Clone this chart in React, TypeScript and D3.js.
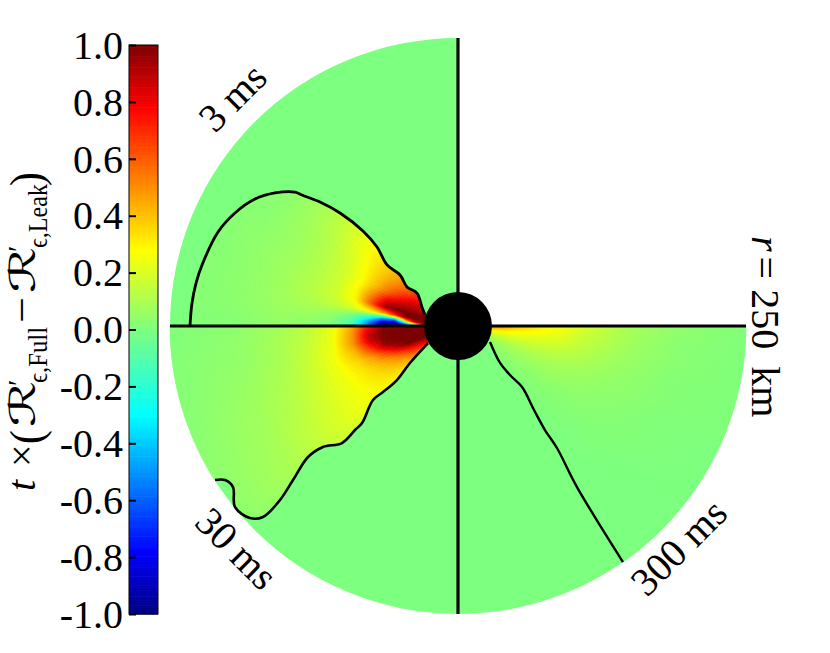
import * as d3 from "d3";
import { useEffect, useRef } from "react";

// polar grid the field is sampled on: radius in km, angle in degrees away from the horizontal line
const radiiKm = [30, 38, 46, 55, 65, 78, 92, 110, 130, 155, 190, 250];
const anglesDeg = [0, 3, 6, 10, 15, 20, 26, 33, 40, 48, 60];

const field3ms = [
    [0.6, -0.2, -0.8, -1.0, -0.95, -0.6, -0.15, 0.0, 0.04, 0.05, 0.02, 0.01],
    [0.9, 0.3, -0.5, -0.95, -0.9, -0.5, -0.1, 0.02, 0.05, 0.06, 0.03, 0.01],
    [1.0, 0.9, 0.4, -0.5, -0.5, -0.2, -0.02, 0.06, 0.08, 0.07, 0.04, 0.01],
    [1.0, 1.0, 1.0, 0.7, 0.45, 0.3, 0.2, 0.15, 0.11, 0.08, 0.04, 0.01],
    [1.0, 1.0, 1.0, 1.0, 0.95, 0.62, 0.3, 0.18, 0.13, 0.08, 0.04, 0.01],
    [0.92, 0.92, 0.92, 0.9, 0.82, 0.55, 0.3, 0.18, 0.12, 0.08, 0.04, 0.01],
    [0.85, 0.88, 0.85, 0.75, 0.62, 0.43, 0.28, 0.18, 0.12, 0.07, 0.04, 0.01],
    [0.78, 0.78, 0.72, 0.62, 0.52, 0.4, 0.3, 0.2, 0.13, 0.08, 0.03, 0.01],
    [0.72, 0.72, 0.65, 0.55, 0.47, 0.38, 0.32, 0.24, 0.16, 0.09, 0.03, 0.01],
    [0.6, 0.6, 0.55, 0.48, 0.42, 0.36, 0.3, 0.24, 0.17, 0.09, 0.03, 0.01],
    [0.4, 0.4, 0.35, 0.3, 0.25, 0.2, 0.15, 0.1, 0.06, 0.04, 0.02, 0.01],
];

const field30ms = [
    [1.0, 1.0, 0.9, 0.8, 0.95, 0.75, 0.45, 0.22, 0.14, 0.08, 0.04, 0.01],
    [1.0, 1.0, 1.0, 1.0, 1.0, 0.82, 0.48, 0.24, 0.15, 0.09, 0.045, 0.01],
    [1.0, 1.0, 1.0, 1.0, 1.0, 0.88, 0.5, 0.25, 0.16, 0.1, 0.05, 0.015],
    [1.0, 1.0, 1.0, 1.0, 1.0, 0.85, 0.5, 0.26, 0.17, 0.1, 0.05, 0.02],
    [1.0, 1.0, 1.0, 1.0, 0.95, 0.68, 0.42, 0.27, 0.18, 0.11, 0.06, 0.02],
    [1.0, 1.0, 1.0, 0.9, 0.72, 0.5, 0.36, 0.26, 0.18, 0.12, 0.07, 0.025],
    [0.85, 0.8, 0.75, 0.62, 0.5, 0.4, 0.32, 0.25, 0.19, 0.13, 0.08, 0.03],
    [0.65, 0.6, 0.55, 0.45, 0.4, 0.34, 0.3, 0.25, 0.2, 0.15, 0.09, 0.035],
    [0.5, 0.45, 0.4, 0.35, 0.32, 0.3, 0.28, 0.25, 0.21, 0.16, 0.1, 0.04],
    [0.35, 0.3, 0.28, 0.25, 0.25, 0.22, 0.2, 0.2, 0.17, 0.13, 0.08, 0.03],
    [0.2, 0.2, 0.18, 0.15, 0.15, 0.12, 0.1, 0.1, 0.1, 0.07, 0.04, 0.02],
];

const field300ms = [
    [0.55, 0.5, 0.42, 0.37, 0.33, 0.3, 0.27, 0.2, 0.14, 0.08, 0.04, 0.01],
    [0.45, 0.42, 0.38, 0.34, 0.31, 0.28, 0.25, 0.18, 0.13, 0.08, 0.04, 0.01],
    [0.35, 0.33, 0.3, 0.28, 0.27, 0.25, 0.22, 0.16, 0.12, 0.07, 0.03, 0.01],
    [0.25, 0.24, 0.23, 0.22, 0.21, 0.2, 0.18, 0.14, 0.1, 0.06, 0.03, 0.01],
    [0.15, 0.16, 0.16, 0.16, 0.16, 0.15, 0.14, 0.11, 0.08, 0.05, 0.02, 0.01],
    [0.1, 0.11, 0.11, 0.11, 0.11, 0.11, 0.1, 0.08, 0.06, 0.04, 0.02, 0.01],
    [0.05, 0.06, 0.07, 0.07, 0.07, 0.07, 0.07, 0.06, 0.04, 0.03, 0.01, 0.0],
    [0.03, 0.03, 0.04, 0.04, 0.04, 0.04, 0.04, 0.03, 0.03, 0.02, 0.01, 0.0],
    [0.01, 0.01, 0.02, 0.02, 0.02, 0.02, 0.02, 0.02, 0.01, 0.01, 0.0, 0.0],
    [0.0, 0.0, 0.0, 0.0, 0.0, 0.0, 0.0, 0.0, 0.0, 0.0, 0.0, 0.0],
    [0.0, 0.0, 0.0, 0.0, 0.0, 0.0, 0.0, 0.0, 0.0, 0.0, 0.0, 0.0],
];

// shock contours, [x km, y km]
const shock3ms: [number, number][] = [
    [-232.6, 0.9], [-230.9, 20], [-227.4, 37.3], [-222.2, 53], [-208.3, 81.6], [-193.6, 98.1],
    [-176.2, 110.2], [-158.9, 115.5], [-141.5, 116.3], [-135.4, 113.7], [-119.8, 107.6], [-102.4, 98.1], [-82.5, 82.5],
    [-70.3, 68.6], [-61.6, 53], [-50.3, 44.3], [-44.3, 33.9], [-35.6, 28.6], [-31.3, 16.5], [-28.6, 9.5],
];
const shock30ms: [number, number][] = [
    [-26, -14.8], [-41.7, -32.1], [-53, -46.9], [-65.1, -57.3], [-73.8, -64.2], [-83.3, -84.2],
    [-89.4, -90.3], [-100.7, -101.6], [-117.2, -105], [-130.2, -113.7], [-143.2, -133.7], [-154.5, -151],
    [-169.3, -165.8], [-180.6, -166.7], [-193.6, -157.1], [-195.3, -139.8], [-202.3, -133.7], [-210.9, -133.7],
];
const shock300ms: [number, number][] = [
    [27.8, -13.9], [36.5, -32.1], [45.1, -42.5], [55.6, -53], [66, -72.9], [75.5, -90.3],
    [85.9, -105.9], [103.3, -139.8], [143.2, -204.9],
];

const tickValues = [-1, -0.8, -0.6, -0.4, -0.2, 0, 0.2, 0.4, 0.6, 0.8, 1];
const tickLabels = ["-1.0", "-0.8", "-0.6", "-0.4", "-0.2", "0.0", "0.2", "0.4", "0.6", "0.8", "1.0"];

const SERIF = "'Liberation Serif', serif";

export default function App() {
    const svgRef = useRef<SVGSVGElement>(null);

    useEffect(() => {
        const svg = d3.select(svgRef.current);
        svg.selectAll("*").remove();

        const x = d3.scaleLinear().domain([-250, 250]).range([170, 746]);
        const y = d3.scaleLinear().domain([-250, 250]).range([614, 38]);
        const r = d3.scaleLinear().domain([0, 250]).range([0, 288]);
        const cx = x(0);
        const cy = y(0);

        // jet
        const color = d3.scaleLinear<string>()
            .domain([-1, -0.78, -0.3, 0, 0.28, 0.78, 1])
            .range(["#00007f", "#0000ff", "#00ffff", "#7dff7f", "#ffff00", "#ff0000", "#7f0000"])
            .clamp(true);

        const arc = d3.arc();
        const rad = (deg: number) => (deg * Math.PI) / 180;

        // field index lookups, so the fine mesh can shade between grid nodes
        const radiusIndex = d3.scaleLinear().domain(radiiKm).range(radiiKm.map((_, i) => i)).clamp(true);
        const angleIndex = d3.scaleLinear().domain(anglesDeg).range(anglesDeg.map((_, i) => i)).clamp(true);
        const sample = (grid: number[][], km: number, deg: number) => {
            const u = radiusIndex(km);
            const v = angleIndex(deg);
            const i = Math.min(Math.floor(u), radiiKm.length - 2);
            const j = Math.min(Math.floor(v), anglesDeg.length - 2);
            const top = d3.interpolateNumber(grid[j][i], grid[j][i + 1])(u - i);
            const bottom = d3.interpolateNumber(grid[j + 1][i], grid[j + 1][i + 1])(u - i);
            return d3.interpolateNumber(top, bottom)(v - j);
        };

        const rings = [...d3.range(29, 110, 1.5), ...d3.range(110, 250, 5), 250];
        const spokes = [...d3.range(0, 20, 0.75), ...d3.range(20, 60, 2), 60];

        const wedges = [
            { id: "w3", grid: field3ms, shock: shock3ms, base: -90, dir: 1, close: [[0, 0]], sw: 2.8 },
            { id: "w30", grid: field30ms, shock: shock30ms, base: -90, dir: -1, close: [[-300, -133.7], [-300, 0], [0, 0]], sw: 2.6 },
            { id: "w300", grid: field300ms, shock: shock300ms, base: 90, dir: 1, close: [[300, -204.9], [300, 0], [0, 0]], sw: 2.4 },
        ];

        const plot = svg.append("g").attr("transform", `translate(${cx},${cy})`);
        const defs = svg.append("defs");
        const toXY = (d: number[]) => [x(d[0]) - cx, y(d[1]) - cy] as [number, number];

        // quiet background of the three quadrants
        plot.append("path")
            .attr("d", arc({ innerRadius: 0, outerRadius: r(250), startAngle: rad(90), endAngle: rad(360) } as any))
            .attr("fill", color(0));

        wedges.forEach(w => {
            const outline = [...w.shock, ...w.close].map(toXY);
            defs.append("clipPath").attr("id", w.id)
                .append("path").attr("d", d3.line()(outline) + "Z");

            const cells: { a0: number; a1: number; k0: number; k1: number; v: number }[] = [];
            d3.pairs(spokes).forEach(([a0, a1]) => {
                d3.pairs(rings).forEach(([k0, k1]) => {
                    cells.push({ a0, a1, k0, k1, v: sample(w.grid, (k0 + k1) / 2, (a0 + a1) / 2) });
                });
            });

            const edge = (deg: number) => rad(w.base + w.dir * deg);
            plot.append("g").attr("clip-path", `url(#${w.id})`)
                .selectAll("path")
                .data(cells)
                .enter()
                .append("path")
                .attr("d", d => arc({
                    innerRadius: r(d.k0),
                    outerRadius: r(d.k1),
                    startAngle: Math.min(edge(d.a0), edge(d.a1)),
                    endAngle: Math.max(edge(d.a0), edge(d.a1)),
                } as any))
                .attr("fill", d => color(d.v))
                .attr("stroke", d => color(d.v))
                .attr("stroke-width", 0.6);
        });

        // shock contours
        wedges.forEach(w => {
            plot.append("path")
                .attr("d", d3.line().curve(d3.curveCatmullRom.alpha(0.5))(w.shock.map(toXY)))
                .attr("fill", "none")
                .attr("stroke", "#000")
                .attr("stroke-width", w.sw);
        });

        // quadrant separators and the central excised region
        svg.append("line").attr("x1", x(-250)).attr("x2", x(250)).attr("y1", cy).attr("y2", cy)
            .attr("stroke", "#000").attr("stroke-width", 3.2);
        svg.append("line").attr("x1", cx).attr("x2", cx).attr("y1", y(250)).attr("y2", y(-250))
            .attr("stroke", "#000").attr("stroke-width", 3.2);
        svg.append("circle").attr("cx", cx).attr("cy", cy).attr("r", r(29.5)).attr("fill", "#000");

        // Colorbar
        const barLeft = 129;
        const barWidth = 29;
        const barScale = d3.scaleLinear().domain([-1, 1]).range([614, 45]);
        const barSteps = d3.range(-1, 1, 2 / 256);
        svg.append("g")
            .selectAll("rect")
            .data(barSteps)
            .enter()
            .append("rect")
            .attr("x", barLeft)
            .attr("width", barWidth)
            .attr("y", d => barScale(d + 2 / 256))
            .attr("height", (barScale(-1) - barScale(1)) / 256 + 0.6)
            .attr("fill", d => color(d + 1 / 256));
        svg.append("rect")
            .attr("x", barLeft).attr("y", barScale(1))
            .attr("width", barWidth).attr("height", barScale(-1) - barScale(1))
            .attr("fill", "none").attr("stroke", "#000").attr("stroke-width", 1);

        const axis = svg.append("g")
            .attr("transform", `translate(${barLeft},0)`)
            .call(d3.axisLeft(barScale).tickValues(tickValues).tickSizeInner(-7).tickSizeOuter(0).tickPadding(6)
                .tickFormat((_, i) => tickLabels[i]));
        axis.select(".domain").remove();
        axis.selectAll("line").attr("stroke", "#000").attr("stroke-width", 2);
        axis.selectAll("text")
            .attr("font-family", SERIF)
            .attr("font-size", 40)
            .attr("fill", "#000")
            .attr("dy", "0.33em");

        // Rotated labels
        const label = (txt: string, px: number, py: number, angle: number) =>
            svg.append("text")
                .attr("transform", `translate(${px},${py}) rotate(${angle})`)
                .attr("font-family", SERIF)
                .attr("font-size", 40)
                .attr("fill", "#000")
                .text(txt);
        label("3 ms", 215, 134, -45);
        label("30 ms", 193, 524, 45);
        label("300 ms", 647, 598, -45);
        const rim = label("", 752, 236, 90);
        rim.append("tspan").attr("font-style", "italic").text("r");
        rim.append("tspan").attr("dx", 5).text("=");
        rim.append("tspan").attr("dx", 10).text("250");
        rim.append("tspan").attr("dx", 17).text("km");

        // Colorbar title, set piece by piece like the math it came from
        const piece = (txt: string, px: number, py: number, size: number, opts: any = {}) => {
            const t = svg.append("text")
                .attr("transform", `translate(${px},${py}) rotate(-90)${opts.squeeze ? ` scale(${opts.squeeze},1)` : ""}`)
                .attr("font-family", opts.family || SERIF)
                .attr("font-size", size)
                .attr("font-style", opts.italic ? "italic" : "normal")
                .attr("fill", "#000")
                .text(txt);
            if (opts.len) t.attr("textLength", opts.len).attr("lengthAdjust", "spacingAndGlyphs");
        };
        piece("t", 35, 491, 40, { italic: true });
        piece("×", 35, 467, 40);
        piece("(", 42, 444, 46, { squeeze: 0.9 });
        piece("ℛ", 35, 427, 36, { family: "'DejaVu Sans'", len: 46 });
        piece("′", 28, 386, 30);
        piece("ϵ,Full", 47, 383, 28, { len: 56 });
        piece("−", 35, 323, 40, { len: 26 });
        piece("ℛ", 35, 293, 36, { family: "'DejaVu Sans'", len: 46 });
        piece("′", 28, 252, 30);
        piece("ϵ,Leak", 47, 248, 28, { len: 64 });
        piece(")", 42, 186, 46, { squeeze: 0.9 });
    }, []);

    return <svg ref={svgRef} width={830} height={653} style={{ position: "absolute", left: 0, top: 0, background: "#fff" }} />;
}
